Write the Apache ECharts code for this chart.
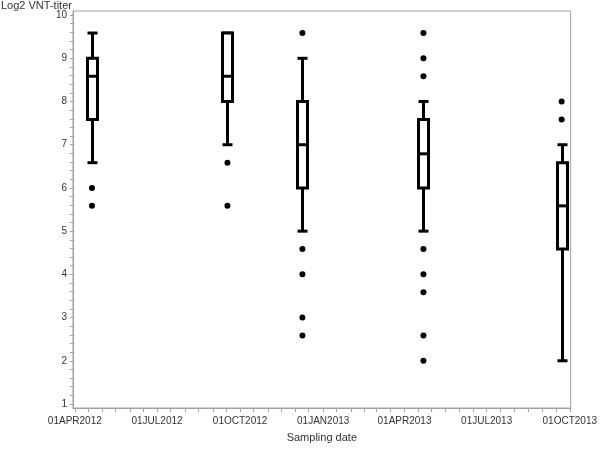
<!DOCTYPE html>
<html>
<head>
<meta charset="utf-8">
<script src="https://cdn.jsdelivr.net/npm/echarts@6/dist/echarts.min.js"></script>
<style>html,body{margin:0;padding:0;background:#fff}#c{width:600px;height:450px}</style>
</head>
<body>
<div id="c"></div>
<script>
// ---- data ----
var sampleDates = ['2012-04-20', '2012-09-17', '2012-12-09', '2013-04-22', '2013-09-22'];
var whiskerLow  = [6.585, 7.0,   5.0, 5.0,   2.0];
var q1          = [7.585, 8.0,   6.0, 6.0,   4.585];
var median      = [8.585, 8.585, 7.0, 6.79,  5.585];
var q3          = [9.0,   9.585, 8.0, 7.585, 6.585];
var whiskerHigh = [9.585, 9.585, 9.0, 8.0,   7.0];
var outliers = [
  [6.0, 5.585],
  [6.585, 5.585],
  [9.585, 4.585, 4.0, 3.0, 2.585],
  [9.585, 9.0, 8.585, 4.585, 4.0, 3.585, 2.585, 2.0],
  [8.0, 7.585]
];
var xTickLabels = ['2012-04-01', '2012-07-01', '2012-10-01', '2013-01-01', '2013-04-01', '2013-07-01', '2013-10-01'];
var yTickLabels = [1, 2, 3, 4, 5, 6, 7, 8, 9, 10];

// ---- build ----
function ts(s) { return new Date(s + 'T00:00:00Z').getTime(); }
var MON = ['JAN','FEB','MAR','APR','MAY','JUN','JUL','AUG','SEP','OCT','NOV','DEC'];
function fmtDate(v) {
  var d = new Date(v);
  var dd = d.getUTCDate();
  return (dd < 10 ? '0' : '') + dd + MON[d.getUTCMonth()] + d.getUTCFullYear();
}
var boxData = sampleDates.map(function (d, i) {
  return [ts(d), whiskerLow[i], q1[i], median[i], q3[i], whiskerHigh[i]];
});
var outlierData = [];
outliers.forEach(function (arr, i) {
  arr.forEach(function (v) { outlierData.push([ts(sampleDates[i]), v]); });
});
// x ticks: 1st and 16th of each month
var xTicks = [];
for (var y = 2012; y <= 2013; y++) {
  for (var m = 0; m < 12; m++) {
    var t1 = Date.UTC(y, m, 1), t2 = Date.UTC(y, m, 16);
    if (t1 >= ts('2012-04-01') && t1 <= ts('2013-10-01')) xTicks.push(t1);
    if (t2 >= ts('2012-04-01') && t2 < ts('2013-10-01')) xTicks.push(t2);
  }
}
var xLabels = xTickLabels.map(ts);
var yTicks = [];
for (var k = 0; k <= 45; k++) yTicks.push(Math.round((1 + k * 0.2) * 10) / 10);

var FONT = '"Liberation Sans", Arial, sans-serif';
var AX = '#a0a0a0';
var TXT = '#333';

var chart = echarts.init(document.getElementById('c'), null, {renderer: 'canvas'});
chart.setOption({
  animation: false,
  backgroundColor: '#fff',
  title: {
    text: 'Log2 VNT-titer', left: 1, top: 0, padding: 0,
    textStyle: {fontFamily: FONT, fontSize: 11, fontWeight: 'normal', color: TXT}
  },
  grid: {left: 73, right: 28, top: 11, bottom: 42, show: true, borderColor: AX, borderWidth: 1, backgroundColor: 'transparent'},
  xAxis: {
    type: 'value',
    min: ts('2012-03-30'), max: ts('2013-10-02'),
    name: 'Sampling date', nameLocation: 'middle', nameGap: 24,
    nameTextStyle: {fontFamily: FONT, fontSize: 11, color: TXT},
    axisLine: {show: true, lineStyle: {color: AX, width: 1}},
    axisTick: {show: true, customValues: xTicks, length: 4, lineStyle: {color: AX}},
    axisLabel: {customValues: xLabels, formatter: function (v) { return fmtDate(v); },
      fontFamily: FONT, fontSize: 10, color: TXT, margin: 8, hideOverlap: false},
    splitLine: {show: false}
  },
  yAxis: {
    type: 'value',
    min: 0.907, max: 10.095,
    axisLine: {show: true, lineStyle: {color: AX, width: 1}},
    axisTick: {show: true, customValues: yTicks, length: 3, lineStyle: {color: AX}},
    axisLabel: {customValues: yTickLabels, fontFamily: FONT, fontSize: 10, color: TXT, margin: 6},
    splitLine: {show: false}
  },
  series: [
    {
      type: 'custom',
      data: boxData,
      encode: {x: 0, y: [1, 2, 3, 4, 5]},
      renderItem: function (params, api) {
        var x = api.value(0);
        var pLow = api.coord([x, api.value(1)]);
        var pQ1 = api.coord([x, api.value(2)]);
        var pMed = api.coord([x, api.value(3)]);
        var pQ3 = api.coord([x, api.value(4)]);
        var pHigh = api.coord([x, api.value(5)]);
        var cx = Math.round(pQ1[0]) + 0.5;
        var hw = 5;
        var st = {stroke: '#000', lineWidth: 3, fill: 'none'};
        return {
          type: 'group',
          children: [
            {type: 'line', shape: {x1: cx, y1: pLow[1], x2: cx, y2: pQ1[1]}, style: st},
            {type: 'line', shape: {x1: cx, y1: pQ3[1], x2: cx, y2: pHigh[1]}, style: st},
            {type: 'line', shape: {x1: cx - hw, y1: pLow[1], x2: cx + hw, y2: pLow[1]}, style: st},
            {type: 'line', shape: {x1: cx - hw, y1: pHigh[1], x2: cx + hw, y2: pHigh[1]}, style: st},
            {type: 'rect', shape: {x: cx - hw, y: pQ3[1], width: 2 * hw, height: pQ1[1] - pQ3[1]}, style: {stroke: '#000', lineWidth: 3, fill: '#fff'}},
            {type: 'line', shape: {x1: cx - hw, y1: pMed[1], x2: cx + hw, y2: pMed[1]}, style: st}
          ]
        };
      },
      z: 2
    },
    {
      type: 'scatter',
      data: outlierData,
      symbol: 'circle',
      symbolSize: 6,
      itemStyle: {color: '#000', opacity: 1},
      z: 3
    }
  ]
});
</script>
</body>
</html>
